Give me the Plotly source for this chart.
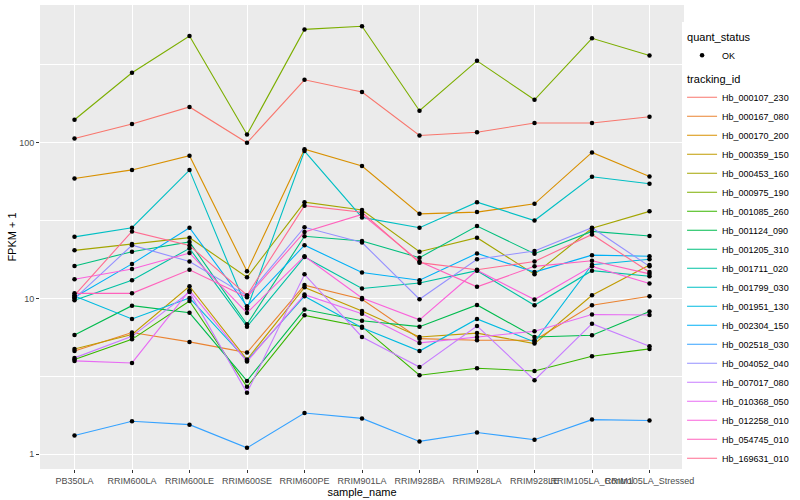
import plotly.graph_objects as go

samples = ["PB350LA", "RRIM600LA", "RRIM600LE", "RRIM600SE", "RRIM600PE", "RRIM901LA",
           "RRIM928BA", "RRIM928LA", "RRIM928LE", "RRIM105LA_Control", "RRIM105LA_Stressed"]

tracking_ids = ["Hb_000107_230", "Hb_000167_080", "Hb_000170_200", "Hb_000359_150",
                "Hb_000453_160", "Hb_000975_190", "Hb_001085_260", "Hb_001124_090",
                "Hb_001205_310", "Hb_001711_020", "Hb_001799_030", "Hb_001951_130",
                "Hb_002304_150", "Hb_002518_030", "Hb_004052_040", "Hb_007017_080",
                "Hb_010368_050", "Hb_012258_010", "Hb_054745_010", "Hb_169631_010"]

colors = ["#F8766D", "#EA8331", "#D89000", "#C09B00", "#A3A500", "#7CAE00", "#39B600",
          "#00BB4E", "#00BF7D", "#00C1A3", "#00BFC4", "#00BAE0", "#00B0F6", "#35A2FF",
          "#9590FF", "#C77CFF", "#E76BF3", "#FA62DB", "#FF62BC", "#FF6C91"]

# FPKM + 1 values per tracking_id, in sample order
hb_000107_230 = [106.7, 132, 170, 100, 254, 212, 111.5, 117, 134, 134, 147]
hb_000167_080 = [4.6, 6.05, 5.27, 4.5, 12.2, 9.9, 5.53, 5.4, 5.4, 9.06, 10.35]
hb_000170_200 = [59, 67, 82.6, 15.0, 91, 71, 35, 35.9, 40.6, 86.8, 60.8]
hb_000359_150 = [4.75, 5.88, 12.0, 4.06, 11.8, 8.33, 5.67, 6.0, 5.14, 10.5, 16.4]
hb_000453_160 = [20.4, 22.4, 24.6, 13.7, 41.6, 37.0, 20.0, 24.6, 14.3, 28.3, 36.3]
hb_000975_190 = [140.6, 282, 485, 113, 535, 560, 160.6, 336, 189, 469, 364]
hb_001085_260 = [4.06, 5.47, 9.65, 2.71, 7.8, 6.6, 3.22, 3.57, 3.43, 4.26, 4.75]
hb_001124_090 = [5.84, 9.0, 8.1, 2.96, 8.5, 7.2, 6.6, 9.1, 5.67, 5.81, 8.25]
hb_001205_310 = [16.2, 20.0, 23.1, 6.84, 25.1, 23.4, 18.3, 29.2, 19.4, 27.0, 25.2]
hb_001711_020 = [9.75, 13.1, 21.0, 6.6, 18.5, 11.6, 12.6, 15.1, 9.06, 15.1, 13.9]
hb_001799_030 = [24.9, 28.5, 66.8, 8.6, 88.5, 33.2, 28.5, 41.6, 31.7, 60.5, 54.6]
hb_001951_130 = [10.4, 7.4, 10.1, 4.0, 10.35, 6.5, 4.6, 7.4, 5.27, 16.5, 17.9]
hb_002304_150 = [10.2, 16.7, 28.5, 8.93, 22.0, 14.7, 13.1, 19.5, 14.8, 19.0, 18.7]
hb_002518_030 = [1.32, 1.63, 1.55, 1.1, 1.84, 1.70, 1.21, 1.38, 1.24, 1.67, 1.65]
hb_004052_040 = [10.0, 22.0, 17.3, 10.4, 28.7, 22.9, 9.9, 17.9, 20.2, 28.5, 16.1]
hb_007017_080 = [4.16, 5.72, 11.0, 2.48, 14.3, 5.67, 3.63, 6.67, 2.99, 6.9, 4.94]
hb_010368_050 = [3.98, 3.86, 11.3, 3.94, 10.6, 8.0, 5.19, 5.67, 6.17, 7.9, 7.85]
hb_012258_010 = [13.3, 15.5, 19.6, 8.09, 18.7, 10.1, 7.3, 15.2, 9.85, 16.1, 12.5]
hb_054745_010 = [10.8, 10.8, 15.3, 10.2, 26.8, 34.7, 17.3, 11.9, 16.1, 17.5, 14.4]
hb_169631_010 = [10.5, 27.0, 21.9, 10.5, 39.5, 35.8, 17.0, 15.3, 17.3, 25.8, 14.8]

series = [hb_000107_230, hb_000167_080, hb_000170_200, hb_000359_150, hb_000453_160,
          hb_000975_190, hb_001085_260, hb_001124_090, hb_001205_310, hb_001711_020,
          hb_001799_030, hb_001951_130, hb_002304_150, hb_002518_030, hb_004052_040,
          hb_007017_080, hb_010368_050, hb_012258_010, hb_054745_010, hb_169631_010]

y_ticks = [1, 10, 100]
y_minor = [10 ** 0.5, 10 ** 1.5, 10 ** 2.5]

FONT = "Liberation Sans, Arial, sans-serif"

fig = go.Figure()

for i, (tid, vals, col) in enumerate(zip(tracking_ids, series, colors)):
    fig.add_trace(go.Scatter(
        x=samples, y=vals, mode="lines", name=tid,
        line=dict(color=col, width=1.1),
        legendgroup="tracking_id",
        legendgrouptitle=dict(text="tracking_id", font=dict(size=11, color="black")),
        legendrank=100 + i,
    ))

all_x = [s for vals in series for s in samples]
all_y = [v for vals in series for v in vals]
fig.add_trace(go.Scatter(
    x=all_x, y=all_y, mode="markers", name="OK",
    marker=dict(color="black", size=4.5, symbol="circle"),
    legendgroup="quant_status",
    legendgrouptitle=dict(text="quant_status", font=dict(size=11, color="black")),
    legendrank=1,
))

fig.update_layout(
    width=800, height=500,
    margin=dict(l=40, r=116, t=5, b=31),
    paper_bgcolor="white",
    plot_bgcolor="#EBEBEB",
    font=dict(family=FONT, size=9, color="#4D4D4D"),
    legend=dict(
        x=0.997, xanchor="left", y=0.478, yanchor="middle",
        font=dict(size=9, color="black"),
        tracegroupgap=4,
        itemwidth=30,
        bgcolor="white",
    ),
    showlegend=True,
)

fig.update_xaxes(
    type="category", categoryorder="array", categoryarray=samples,
    range=[-0.6, 10.6],
    showgrid=True, gridcolor="white", gridwidth=1.07,
    ticks="outside", ticklen=3, tickcolor="#333333", tickwidth=1,
    tickangle=0,
    tickfont=dict(size=9, color="#4D4D4D"),
    title=dict(text="sample_name", font=dict(size=11, color="black"), standoff=3),
    zeroline=False, showline=False, automargin=False,
)

fig.update_yaxes(
    type="log", range=[-0.0944, 2.885],
    tickmode="array", tickvals=y_ticks, ticktext=[str(t) for t in y_ticks],
    showgrid=True, gridcolor="white", gridwidth=1.07,
    minor=dict(tickmode="array", tickvals=y_minor, showgrid=True,
               gridcolor="white", gridwidth=0.55, ticklen=0),
    ticks="outside", ticklen=3, tickcolor="#333333", tickwidth=1,
    tickfont=dict(size=9, color="#4D4D4D"),
    title=dict(text="FPKM + 1", font=dict(size=11, color="black"), standoff=0),
    zeroline=False, showline=False, automargin=False,
)

fig.write_html("out.html", config={"displayModeBar": False},
               post_script="document.body.style.margin='0px';")
